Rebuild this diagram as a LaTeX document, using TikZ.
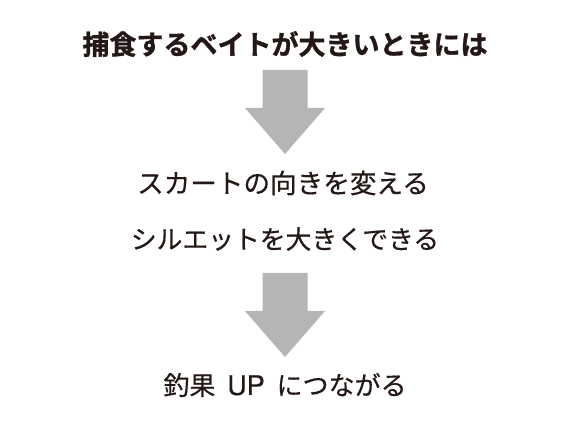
\documentclass[tikz,border=0pt]{standalone}
\usepackage{fontspec}
\usetikzlibrary{calc}
\newfontfamily\jpfont[FakeBold=0.4]{Noto Sans CJK JP}
\newfontfamily\jpbold[FakeBold=1.2]{Noto Sans CJK JP Bold}
\newfontfamily\latinfont[FakeBold=0.3]{TeX Gyre Heros}
\definecolor{ink}{HTML}{231815}
\definecolor{arrowgray}{HTML}{B5B5B6}
\begin{document}
\begin{tikzpicture}[x=1pt,y=1pt,
  txt/.style={text=ink,inner sep=0pt,anchor=center,font=\jpfont\fontsize{26}{26}\selectfont},
  ttl/.style={text=ink,inner sep=0pt,anchor=center,font=\jpbold\fontsize{27}{27}\selectfont},
  bigarrow/.style={fill=arrowgray,draw=none}]
\useasboundingbox (0,0) rectangle (570,427);
\node[ttl] (t1) at (285,383) {捕食するベイトが大きいときには};
\node[txt,font=\jpfont\fontsize{26.6}{26.6}\selectfont] (t2) at (283,244) {スカートの向きを変える};
\node[txt,font=\jpfont\fontsize{25.8}{25.8}\selectfont] (t3) at (285,188) {シルエットを大きくできる};
\node[txt] (t4) at (285,42) {釣果\,{\latinfont\fontsize{27}{27}\selectfont\ UP\ }\,につながる};
\coordinate (a1) at (285,357);
\coordinate (a2) at (285,154);
\fill[bigarrow] ($(a1)+(-22.5,0)$) -- ($(a1)+(22.5,0)$) -- ($(a1)+(22.5,-38)$) -- ($(a1)+(40,-38)$) -- ($(a1)+(0,-84)$) -- ($(a1)+(-40,-38)$) -- ($(a1)+(-22.5,-38)$) -- cycle;
\fill[bigarrow] ($(a2)+(-22.5,0)$) -- ($(a2)+(22.5,0)$) -- ($(a2)+(22.5,-38)$) -- ($(a2)+(40,-38)$) -- ($(a2)+(0,-84)$) -- ($(a2)+(-40,-38)$) -- ($(a2)+(-22.5,-38)$) -- cycle;
\end{tikzpicture}
\end{document}
